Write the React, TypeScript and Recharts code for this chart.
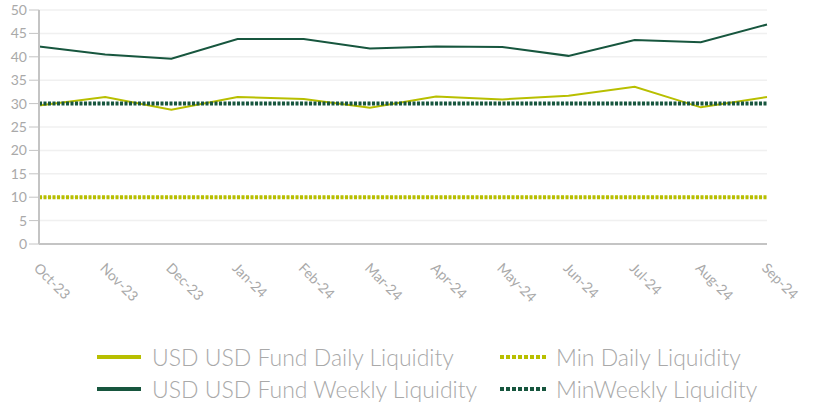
import { LineChart, Line, XAxis, YAxis, CartesianGrid, Legend } from "recharts";

const months = [
  "Oct-23", "Nov-23", "Dec-23", "Jan-24", "Feb-24", "Mar-24",
  "Apr-24", "May-24", "Jun-24", "Jul-24", "Aug-24", "Sep-24",
];
const dailyLiquidity = [29.6, 31.4, 28.7, 31.4, 31.0, 29.1, 31.5, 30.9, 31.7, 33.6, 29.2, 31.4];
const weeklyLiquidity = [42.2, 40.5, 39.6, 43.8, 43.8, 41.8, 42.2, 42.1, 40.2, 43.6, 43.1, 46.9];
const minDaily = [10, 10, 10, 10, 10, 10, 10, 10, 10, 10, 10, 10];
const minWeekly = [30, 30, 30, 30, 30, 30, 30, 30, 30, 30, 30, 30];
const yTicks = [0, 5, 10, 15, 20, 25, 30, 35, 40, 45, 50];

const LIME = "#b8bf00";
const DARK = "#17563e";
const TEXT = "#a9a9a9";
const AXIS = "#c4c4c4";

const data = months.map((m, i) => ({
  month: m,
  daily: dailyLiquidity[i],
  weekly: weeklyLiquidity[i],
  minDaily: minDaily[i],
  minWeekly: minWeekly[i],
}));

const legendItems = [
  { label: "USD USD Fund Daily Liquidity", color: LIME, dotted: false },
  { label: "Min Daily Liquidity", color: LIME, dotted: true },
  { label: "USD USD Fund Weekly Liquidity", color: DARK, dotted: false },
  { label: "MinWeekly Liquidity", color: DARK, dotted: true },
];

function MonthTick(props: any) {
  const { x, y, payload } = props;
  const px = x - 6;
  const py = y + 17;
  return (
    <text
      x={px}
      y={py}
      transform={`rotate(45 ${px} ${py})`}
      textAnchor="start"
      fill={TEXT}
      fontSize={14}
      fontFamily="Lato, sans-serif"
    >
      {payload.value}
    </text>
  );
}

function LegendBox() {
  return (
    <div
      style={{
        display: "grid",
        gridTemplateColumns: "403px 300px",
        rowGap: 7,
        paddingLeft: 97,
        fontFamily: "Lato, sans-serif",
        fontWeight: 300,
        fontSize: 23,
        color: TEXT,
        textAlign: "left",
      }}
    >
      {legendItems.map((it) => (
        <div key={it.label} style={{ display: "flex", alignItems: "center", height: 25, whiteSpace: "nowrap" }}>
          <svg width={it.dotted ? 46 : 44} height={10} style={{ marginRight: it.dotted ? 10 : 11 }}>
            {it.dotted ? (
              <line x1={0} y1={5} x2={46} y2={5} stroke={it.color} strokeWidth={4} strokeDasharray="4 2" />
            ) : (
              <line x1={0} y1={5} x2={44} y2={5} stroke={it.color} strokeWidth={4} />
            )}
          </svg>
          <span>{it.label}</span>
        </div>
      ))}
    </div>
  );
}

export default function App() {
  return (
    <div style={{ position: "absolute", left: 0, top: 0, background: "#fff" }}>
      <LineChart width={818} height={407} data={data} margin={{ top: 10, right: 51, left: 9, bottom: 0 }}>
        <CartesianGrid vertical={false} stroke="#f0f0f0" strokeWidth={1.5} />
        <XAxis
          dataKey="month"
          interval={0}
          height={83}
          tick={<MonthTick />}
          tickLine={false}
          axisLine={{ stroke: AXIS, strokeWidth: 2 }}
        />
        <YAxis
          width={30}
          domain={[0, 50]}
          ticks={yTicks}
          interval={0}
          tick={{ fill: TEXT, fontSize: 14, fontFamily: "Lato, sans-serif" }}
          tickLine={{ stroke: AXIS }}
          tickSize={10}
          axisLine={{ stroke: AXIS, strokeWidth: 2 }}
        />
        <Legend
          verticalAlign="bottom"
          height={80}
          wrapperStyle={{ left: 0, width: 818, top: 344 }}
          content={() => <LegendBox />}
        />
        <Line dataKey="minDaily" stroke={LIME} strokeWidth={4} strokeDasharray="3 1.5" dot={false} isAnimationActive={false} />
        <Line dataKey="daily" stroke={LIME} strokeWidth={2} dot={false} isAnimationActive={false} />
        <Line dataKey="weekly" stroke={DARK} strokeWidth={2} dot={false} isAnimationActive={false} />
        <Line dataKey="minWeekly" stroke={DARK} strokeWidth={4} strokeDasharray="3 1.5" dot={false} isAnimationActive={false} />
      </LineChart>
    </div>
  );
}
